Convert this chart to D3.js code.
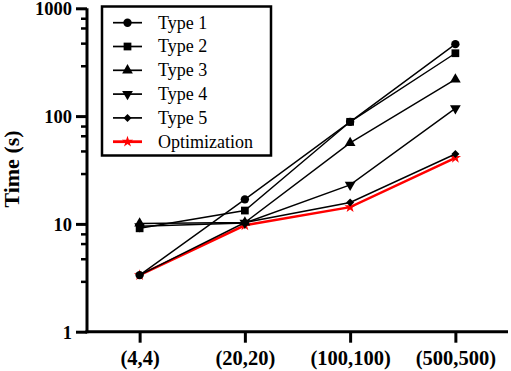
<!DOCTYPE html>
<html>
<head>
<meta charset="utf-8">
<script src="https://cdn.jsdelivr.net/npm/d3@7"></script>
<style>
  body { margin: 0; background: #fff; }
  svg { display: block; font-family: "Liberation Serif", "Times New Roman", serif; }
</style>
</head>
<body>
<svg id="chart" width="511" height="371"></svg>
<script>
// data
const sizes = ["(4,4)", "(20,20)", "(100,100)", "(500,500)"];
const type1 = [3.35, 16.9, 88.5, 465];
const type2 = [9.1, 13.3, 88.5, 383];
const type3 = [10.1, 10.3, 56.5, 219];
const type4 = [9.5, 10.2, 23, 118];
const type5 = [3.35, 10.3, 15.8, 44.5];
const optimization = [3.35, 9.7, 14.3, 41];
const yTicks = [1, 10, 100, 1000];
const minorSteps = [8, 6.5, 4.7, 2.9]; // minor tick spots inside each decade

const series = [
  { name: "Optimization", values: optimization, color: "#ff0000", symbol: d3.symbolStar, size: 40, width: 2.5, rotate: 0 },
  { name: "Type 5", values: type5, color: "#000", symbol: d3.symbolSquare, size: 32, width: 1.4, rotate: 45 },
  { name: "Type 4", values: type4, color: "#000", symbol: d3.symbolTriangle, size: 50, width: 1.4, rotate: 180 },
  { name: "Type 3", values: type3, color: "#000", symbol: d3.symbolTriangle, size: 50, width: 1.4, rotate: 0 },
  { name: "Type 2", values: type2, color: "#000", symbol: d3.symbolSquare, size: 60, width: 1.4, rotate: 0 },
  { name: "Type 1", values: type1, color: "#000", symbol: d3.symbolCircle, size: 55, width: 1.4, rotate: 0 },
];

const svg = d3.select("#chart");
const plot = { left: 87, right: 508, top: 8.3, bottom: 331.7 };

const x = d3.scalePoint().domain(sizes).range([plot.left, plot.right]).padding(0.5);
const y = d3.scaleLog().domain([1, 1000]).range([plot.bottom, plot.top]);

// minor ticks on the y axis
const minor = [];
[1, 10, 100].forEach((d) => minorSteps.forEach((m) => minor.push(d * m)));
svg.append("g")
  .selectAll("line")
  .data(minor)
  .join("line")
  .attr("x1", plot.left - 6)
  .attr("x2", plot.left)
  .attr("y1", (d) => y(d))
  .attr("y2", (d) => y(d))
  .attr("stroke", "#000")
  .attr("stroke-width", 2.5);

const yAxis = svg.append("g")
  .attr("transform", `translate(${plot.left},0)`)
  .call(d3.axisLeft(y).tickValues(yTicks).tickFormat(d3.format("d")).tickSize(11).tickSizeOuter(0).tickPadding(4));

const xAxis = svg.append("g")
  .attr("transform", `translate(0,${plot.bottom})`)
  .call(d3.axisBottom(x).tickSize(11).tickSizeOuter(0).tickPadding(8));

[yAxis, xAxis].forEach((g) => {
  g.select(".domain").attr("stroke-width", 3);
  g.selectAll(".tick line").attr("stroke-width", 3);
  g.selectAll("text")
    .attr("fill", "#000")
    .attr("font-family", "Liberation Serif")
    .attr("font-weight", "bold");
});
yAxis.selectAll("text").attr("font-size", 18.5).attr("dy", "0.36em");
xAxis.selectAll("text").attr("font-size", 20.5);
// join the two axis lines at the corner
xAxis.select(".domain").attr("d", `M${plot.left - 1.5},0H${plot.right}`);
yAxis.select(".domain").attr("d", `M0,${plot.bottom + 1.5}V${plot.top}`);

svg.append("text")
  .attr("transform", `translate(19,169) rotate(-90)`)
  .attr("text-anchor", "middle")
  .attr("font-size", 22)
  .attr("font-weight", "bold")
  .text("Time (s)");

const line = d3.line().x((d, i) => x(sizes[i])).y((d) => y(d));

series.forEach((s) => {
  const g = svg.append("g");
  g.append("path")
    .datum(s.values)
    .attr("d", line)
    .attr("fill", "none")
    .attr("stroke", s.color)
    .attr("stroke-width", s.width);
  g.selectAll("path.pt")
    .data(s.values)
    .join("path")
    .attr("class", "pt")
    .attr("d", d3.symbol(s.symbol, s.size))
    .attr("transform", (d, i) => `translate(${x(sizes[i])},${y(d)}) rotate(${s.rotate})`)
    .attr("fill", s.color);
});

// legend
const legendOrder = series.slice().reverse();
const legend = svg.append("g");
legend.append("rect")
  .attr("x", 102)
  .attr("y", 6.5)
  .attr("width", 169)
  .attr("height", 149)
  .attr("fill", "#fff")
  .attr("stroke", "#000")
  .attr("stroke-width", 2.5);

const rows = legend.selectAll("g.row")
  .data(legendOrder)
  .join("g")
  .attr("class", "row")
  .attr("transform", (d, i) => `translate(0,${22.7 + i * 23.8})`);
rows.append("line")
  .attr("x1", 113)
  .attr("x2", 142)
  .attr("stroke", (d) => d.color)
  .attr("stroke-width", (d) => d.width + 0.3);
rows.append("path")
  .attr("d", (d) => d3.symbol(d.symbol, d.size)())
  .attr("transform", (d) => `translate(127.5,0) rotate(${d.rotate})`)
  .attr("fill", (d) => d.color);
rows.append("text")
  .attr("x", 158)
  .attr("dy", "0.33em")
  .attr("font-size", 18)
  .text((d) => d.name);
</script>
</body>
</html>
